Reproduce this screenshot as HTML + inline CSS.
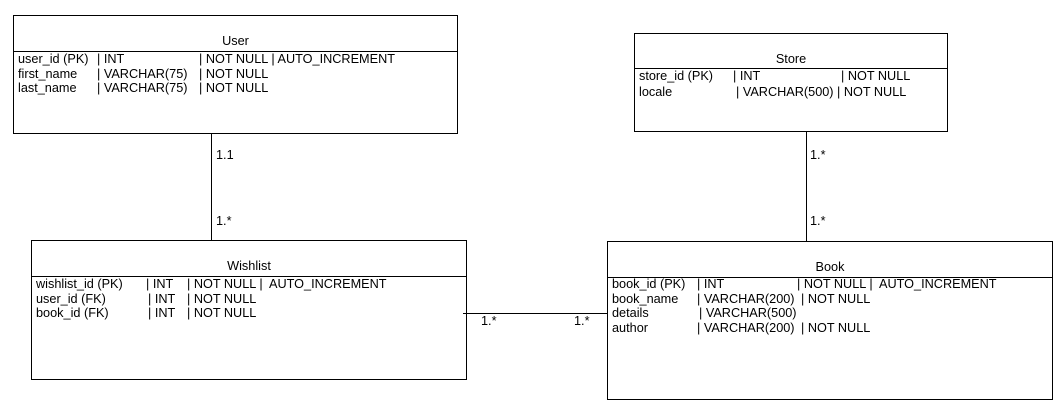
<!DOCTYPE html>
<html><head><style>
body{margin:0;width:1062px;height:416px;background:#fff;position:relative;overflow:hidden;font-family:"Liberation Sans",Arial,sans-serif;font-size:12.7px;color:#000}
.b{position:absolute;border:1px solid #000;box-sizing:border-box}
.l{position:absolute;background:#000}
.t{position:absolute;white-space:pre;line-height:14px}
</style></head><body>
<div class="b" style="left:13px;top:15px;width:445px;height:119px"></div>
<div class="l" style="left:13px;top:51px;width:445px;height:1px"></div>
<div class="b" style="left:634px;top:33px;width:314px;height:99px"></div>
<div class="l" style="left:634px;top:68px;width:314px;height:1px"></div>
<div class="b" style="left:31px;top:240px;width:436px;height:140px"></div>
<div class="l" style="left:31px;top:276px;width:436px;height:1px"></div>
<div class="b" style="left:607px;top:241px;width:446px;height:159px"></div>
<div class="l" style="left:607px;top:277px;width:446px;height:1px"></div>

<div class="l" style="left:211px;top:133px;width:1px;height:107px"></div>
<div class="l" style="left:806px;top:131px;width:1px;height:110px"></div>
<div class="l" style="left:463px;top:313px;width:144px;height:1px"></div>

<div class="t" style="left:216px;top:148px">1.1</div>
<div class="t" style="left:216px;top:214px">1.*</div>
<div class="t" style="left:810px;top:148px">1.*</div>
<div class="t" style="left:810px;top:214px">1.*</div>
<div class="t" style="left:481px;top:314px">1.*</div>
<div class="t" style="left:574px;top:314px">1.*</div>

<div class="t" style="left:13px;width:445px;text-align:center;top:34px">User</div>
<div class="t" style="left:18px;top:52px">user_id (PK)</div><div class="t" style="left:97px;top:52px">| INT</div><div class="t" style="left:199px;top:52px">| NOT NULL | AUTO_INCREMENT</div>
<div class="t" style="left:18px;top:67px">first_name</div><div class="t" style="left:97px;top:67px">| VARCHAR(75)</div><div class="t" style="left:199px;top:67px">| NOT NULL</div>
<div class="t" style="left:18px;top:81px">last_name</div><div class="t" style="left:97px;top:81px">| VARCHAR(75)</div><div class="t" style="left:199px;top:81px">| NOT NULL</div>

<div class="t" style="left:634px;width:314px;text-align:center;top:52px">Store</div>
<div class="t" style="left:639px;top:69px">store_id (PK)</div><div class="t" style="left:733px;top:69px">| INT</div><div class="t" style="left:841px;top:69px">| NOT NULL</div>
<div class="t" style="left:639px;top:85px">locale</div><div class="t" style="left:736px;top:85px">| VARCHAR(500)</div><div class="t" style="left:837px;top:85px">| NOT NULL</div>

<div class="t" style="left:31px;width:436px;text-align:center;top:259px">Wishlist</div>
<div class="t" style="left:36px;top:277px">wishlist_id (PK)</div><div class="t" style="left:146px;top:277px">| INT</div><div class="t" style="left:187px;top:277px">| NOT NULL |  AUTO_INCREMENT</div>
<div class="t" style="left:36px;top:292px">user_id (FK)</div><div class="t" style="left:148px;top:292px">| INT</div><div class="t" style="left:187px;top:292px">| NOT NULL</div>
<div class="t" style="left:36px;top:306px">book_id (FK)</div><div class="t" style="left:148px;top:306px">| INT</div><div class="t" style="left:187px;top:306px">| NOT NULL</div>

<div class="t" style="left:607px;width:446px;text-align:center;top:260px">Book</div>
<div class="t" style="left:612px;top:277px">book_id (PK)</div><div class="t" style="left:697px;top:277px">| INT</div><div class="t" style="left:797px;top:277px">| NOT NULL |  AUTO_INCREMENT</div>
<div class="t" style="left:612px;top:292px">book_name</div><div class="t" style="left:697px;top:292px">| VARCHAR(200)</div><div class="t" style="left:801px;top:292px">| NOT NULL</div>
<div class="t" style="left:612px;top:306px">details</div><div class="t" style="left:699px;top:306px">| VARCHAR(500)</div>
<div class="t" style="left:612px;top:321px">author</div><div class="t" style="left:697px;top:321px">| VARCHAR(200)</div><div class="t" style="left:801px;top:321px">| NOT NULL</div>
</body></html>
